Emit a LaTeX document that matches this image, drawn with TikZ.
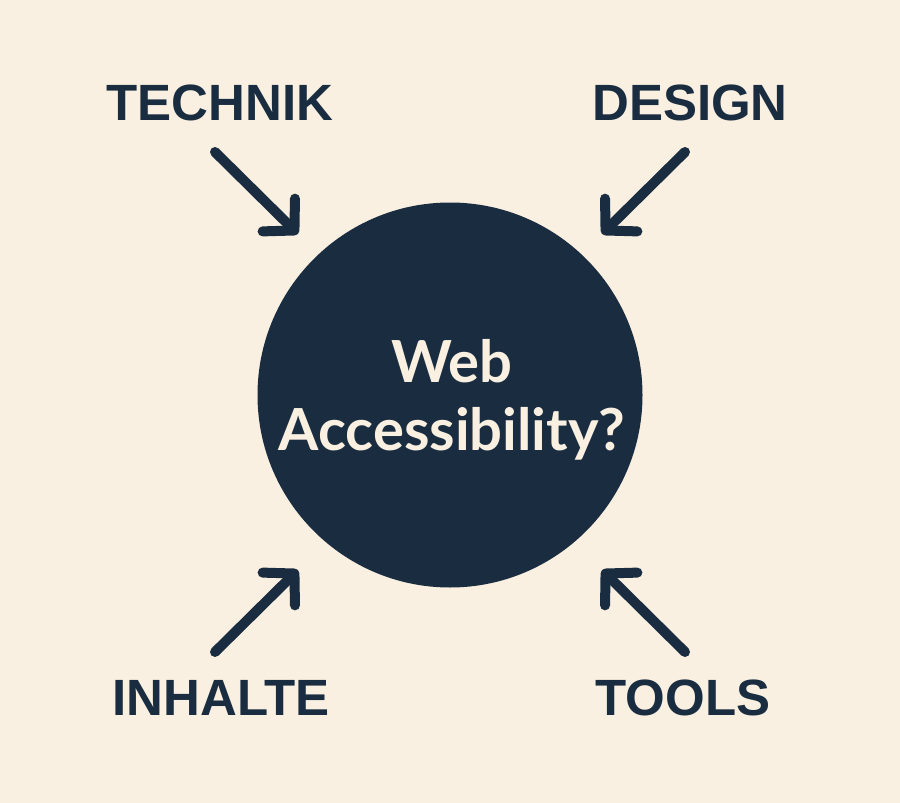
\documentclass[tikz,border=0pt]{standalone}
\usepackage{fontspec}
\setmainfont{Liberation Sans}
\newfontfamily\popfont{Lato}
\usetikzlibrary{arrows.meta}
\definecolor{bg}{HTML}{FAF0E1}
\definecolor{navy}{HTML}{1A2D40}
\tikzset{
  lbl/.style={font=\fontsize{51}{60}\selectfont\bfseries, text=navy, inner sep=0pt},
  arr/.style={navy, line width=10pt, line cap=round, -{Straight Barb[length=22pt,width=46pt,round]}},
}
\begin{document}
\begin{tikzpicture}[x=1pt,y=-1pt]
\fill[bg] (0,0) rectangle (900,803);
\useasboundingbox (0,0) rectangle (900,803);
\node[circle, fill=navy, minimum size=385pt, inner sep=0pt] (c) at (450,395) {};
\node[font=\popfont\fontsize{58}{68}\selectfont\bfseries, text=bg, align=center] (ct) at (452,400) {Web\\Accessibility?};
\node[lbl] (t) at (220,103) {TECHNIK};
\node[lbl] (d) at (690,103) {DESIGN};
\node[lbl] (i) at (221,698) {INHALTE};
\node[lbl] (o) at (683,698) {TOOLS};
\coordinate (t1) at (215,152); \coordinate (t2) at (298,234);
\coordinate (d1) at (685,152); \coordinate (d2) at (602,234);
\coordinate (i1) at (215,652); \coordinate (i2) at (298,570);
\coordinate (o1) at (685,652); \coordinate (o2) at (602,570);
\draw[arr] (t1) -- (t2);
\draw[arr] (d1) -- (d2);
\draw[arr] (i1) -- (i2);
\draw[arr] (o1) -- (o2);
\end{tikzpicture}
\end{document}
